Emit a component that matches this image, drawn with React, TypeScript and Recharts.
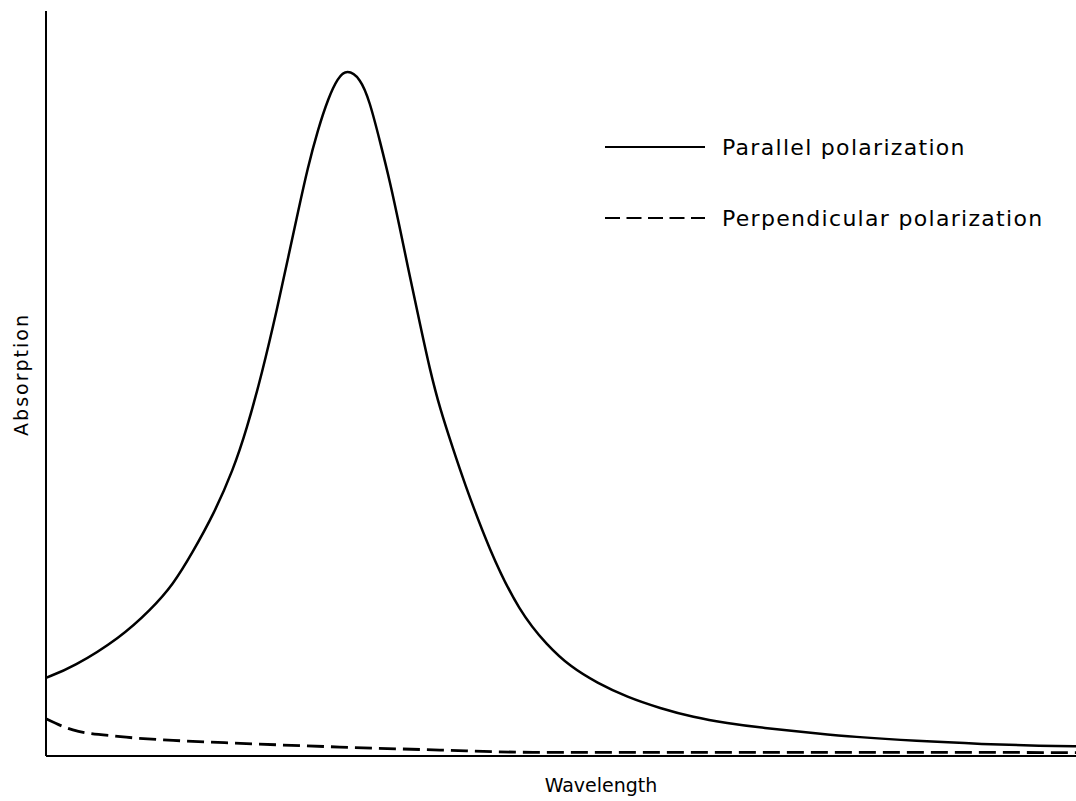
import React from 'react';
import { LineChart, Line, XAxis, YAxis, Legend } from 'recharts';

// wavelength positions (arbitrary units, 0-100) and absorption (0-100)
const parallelX = [0, 2.6, 7.2, 10.1, 12.3, 14.2, 16.2, 18.1, 19.4, 20.9, 22.4, 23.4, 24.4, 25.3, 26.3, 27.3, 28.2, 29.1, 30.4, 31.3, 32.3, 33.3, 34.2, 35.2, 36.2, 37.1, 38.1, 39.4, 40.3, 42.9, 45.8, 48.5, 50.7, 53.3, 56.2, 59.4, 62.6, 65.9, 69.1, 74.9, 77.8, 84.2, 90.6, 96.4, 100];
const parallelY = [10.5, 11.9, 15.9, 19.6, 23.0, 27.4, 32.4, 38.4, 43.8, 51.4, 60.3, 66.8, 73.2, 78.9, 84.1, 88.3, 91.0, 92.2, 91.0, 87.9, 82.5, 76.9, 71.0, 64.3, 57.8, 52.0, 46.6, 41.1, 37.3, 27.5, 19.3, 14.8, 12.0, 9.8, 7.9, 6.4, 5.2, 4.4, 3.8, 3.0, 2.6, 2.0, 1.6, 1.35, 1.3];

const perpX = [0, 2.6, 7.2, 12.3, 18.8, 28.4, 38.1, 47.1, 63.2, 82.6, 100];
const perpY = [5.0, 3.5, 2.6, 2.1, 1.7, 1.2, 0.8, 0.5, 0.5, 0.5, 0.45];

const seriesNames = ['Parallel polarization', 'Perpendicular polarization'];
const xTitle = 'Wavelength';
const yTitle = 'Absorption';

const parallel = parallelX.map((x, i) => ({ x, y: parallelY[i] }));
const perpendicular = perpX.map((x, i) => ({ x, y: perpY[i] }));

const font = '"DejaVu Sans", sans-serif';

const LegendBox = () => (
  <div style={{ fontFamily: font, fontSize: 22, letterSpacing: 1.3, color: '#000' }}>
    {seriesNames.map((name, i) => (
      <div key={name} style={{ display: 'flex', alignItems: 'center', height: 40, marginBottom: i === 0 ? 31 : 0 }}>
        <svg width={100} height={6} style={{ marginRight: 17, flexShrink: 0 }}>
          <line x1={0} y1={3} x2={100} y2={3} stroke="#000" strokeWidth={2}
            strokeDasharray={i === 1 ? '15 6.5' : undefined} />
        </svg>
        <span style={{ whiteSpace: 'nowrap' }}>{name}</span>
      </div>
    ))}
  </div>
);

export default function App() {
  return (
    <div>
      <style>{'body{margin:0;overflow:hidden;background:#fff}'}</style>
      <LineChart width={1080} height={801} margin={{ top: 11, right: 0, bottom: 0, left: 0 }}>
        <XAxis dataKey="x" type="number" domain={[0, 100]} allowDataOverflow height={45} tick={false} tickLine={false}
          axisLine={{ stroke: '#000', strokeWidth: 2 }}
          label={({ viewBox }: any) => (
            <text x={viewBox.x + viewBox.width / 2 + 38} y={viewBox.y + 36} textAnchor="middle"
              fontFamily={font} fontSize={19} fill="#000">{xTitle}</text>
          )} />
        <XAxis xAxisId="top" orientation="top" dataKey="x" type="number" domain={[0, 100]} height={0} tick={false}
          tickLine={false} axisLine={{ stroke: '#000', strokeWidth: 2 }} />
        <YAxis dataKey="y" type="number" domain={[0, 100]} allowDataOverflow width={46} tick={false} tickLine={false}
          axisLine={{ stroke: '#000', strokeWidth: 2 }}
          label={({ viewBox }: any) => {
            const cx = viewBox.x + 21;
            const cy = viewBox.y + viewBox.height / 2 - 9;
            return (
              <text x={cx} y={cy} textAnchor="middle" dominantBaseline="central" transform={`rotate(-90 ${cx} ${cy})`}
                fontFamily={font} fontSize={19} letterSpacing={2} fill="#000">{yTitle}</text>
            );
          }} />
        <Legend content={<LegendBox />} layout="horizontal" verticalAlign="middle" align="center"
          wrapperStyle={{ left: 605, top: 127, width: 470 }} />
        <Line data={parallel} dataKey="y" type="basis" stroke="#000" strokeWidth={2.5} dot={false}
          isAnimationActive={false} name={seriesNames[0]} />
        <Line data={perpendicular} dataKey="y" type="monotone" stroke="#000" strokeWidth={2.8} strokeDasharray="17 7"
          dot={false} isAnimationActive={false} name={seriesNames[1]} />
      </LineChart>
    </div>
  );
}
